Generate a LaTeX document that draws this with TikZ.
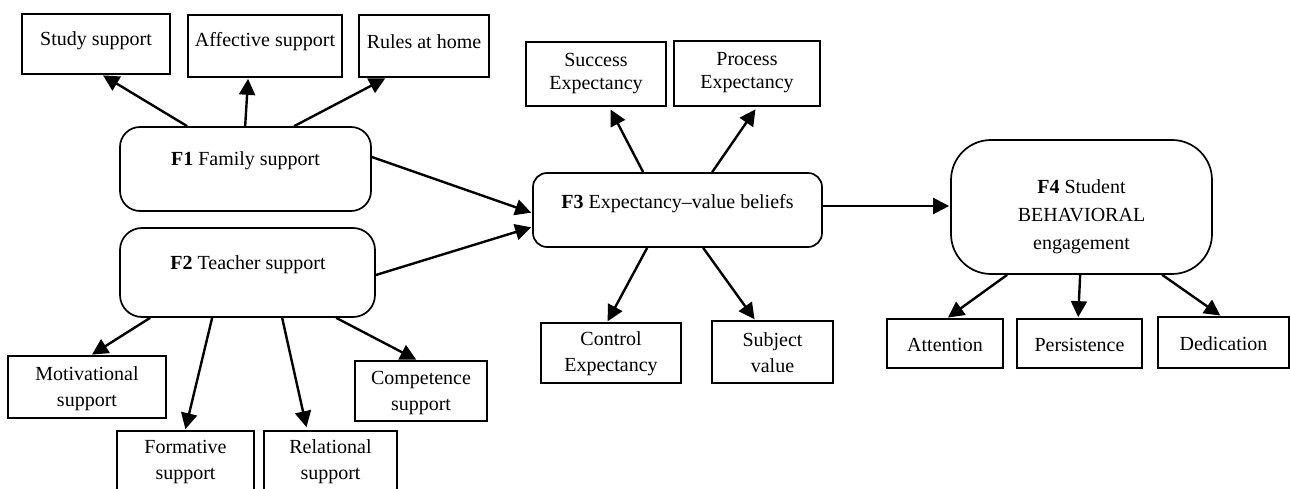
\documentclass[tikz,border=0pt]{standalone}
\usepackage{fontspec}
\setmainfont{Liberation Serif}
\usetikzlibrary{arrows.meta}
\begin{document}
\begin{tikzpicture}[x=1pt,y=-1pt,
  frame/.style={draw, line width=1.7pt, inner sep=0pt},
  rframe/.style={frame, rounded corners=#1},
  lbl/.style={font=\fontsize{20}{26}\selectfont, align=center, inner sep=0pt},
  link/.style={-{Triangle[length=16pt,width=16pt]}, line width=2.4pt, shorten >=1pt}]
\useasboundingbox (0,0) rectangle (1290,489);
\clip (0,0) rectangle (1290,489);

% ---- F1 family support and its indicators
\node[rframe=20pt, minimum width=251, minimum height=84] (f1) at (245.5,169) {};
\node[lbl] (f1t) at (245.5,161) {\textbf{F1} Family support};
\node[frame, minimum width=148, minimum height=60] (study) at (96,44) {};
\node[lbl] (studyt) at (96,41) {Study support};
\node[frame, minimum width=154, minimum height=62] (affect) at (265,46) {};
\node[lbl] (affectt) at (265,42) {Affective support};
\node[frame, minimum width=130, minimum height=62] (rules) at (424,46) {};
\node[lbl] (rulest) at (424,42) {Rules at home};

% ---- F2 teacher support and its indicators
\node[rframe=22pt, minimum width=255, minimum height=89] (f2) at (247.5,272.5) {};
\node[lbl] (f2t) at (248,265) {\textbf{F2} Teacher support};
\node[frame, minimum width=158, minimum height=62] (motiv) at (87,387) {};
\node[lbl] (motivt) at (87,389) {Motivational\\support};
\node[frame, minimum width=137, minimum height=69] (form) at (185.5,465.5) {};
\node[lbl] (formt) at (185.5,462) {Formative\\support};
\node[frame, minimum width=133, minimum height=69] (rel) at (330.5,465.5) {};
\node[lbl] (relt) at (330.5,462) {Relational\\support};
\node[frame, minimum width=132, minimum height=60] (comp) at (421,391) {};
\node[lbl] (compt) at (421,393) {Competence\\support};

% ---- F3 expectancy-value beliefs and its indicators
\node[rframe=14pt, minimum width=289, minimum height=74] (f3) at (677.5,210) {};
\node[lbl] (f3t) at (677.5,204) {\textbf{F3} Expectancy–value beliefs};
\node[frame, minimum width=140, minimum height=64] (succ) at (596,74) {};
\node[lbl, font=\fontsize{20}{23}\selectfont] (succt) at (596,73.5) {Success\\Expectancy};
\node[frame, minimum width=146, minimum height=65] (proc) at (747,73.5) {};
\node[lbl, font=\fontsize{20}{23}\selectfont] (proct) at (747,72.5) {Process\\Expectancy};
\node[frame, minimum width=140, minimum height=60] (ctrl) at (611,353) {};
\node[lbl] (ctrlt) at (611,354) {Control\\Expectancy};
\node[frame, minimum width=121, minimum height=62] (subj) at (772.5,352) {};
\node[lbl] (subjt) at (772.5,352.5) {Subject\\value};

% ---- F4 behavioural engagement and its indicators
\node[rframe=40pt, minimum width=261, minimum height=134] (f4) at (1081.5,207) {};
\node[lbl, font=\fontsize{20}{28}\selectfont] (f4t) at (1081.5,216.5) {\textbf{F4} Student\\BEHAVIORAL\\engagement};
\node[frame, minimum width=116, minimum height=49] (att) at (945,343.5) {};
\node[lbl] (attt) at (945,345) {Attention};
\node[frame, minimum width=125, minimum height=49] (pers) at (1079.5,343.5) {};
\node[lbl] (perst) at (1079.5,345) {Persistence};
\node[frame, minimum width=131, minimum height=51] (ded) at (1223.5,342.5) {};
\node[lbl] (dedt) at (1223.5,344) {Dedication};

% ---- connectors
\draw[link] ([xshift=68pt]f1.north west) -- ([xshift=81pt]study.south west);
\draw[link] ([xshift=126pt]f1.north west) -- ([xshift=61pt]affect.south west);
\draw[link] ([xshift=175pt]f1.north west) -- ([xshift=28pt]rules.south west);

\draw[link] ([yshift=12pt]f1.east) -- ([yshift=-3pt]f3.west);
\draw[link] ([yshift=-2.5pt]f2.east) -- ([yshift=-17pt]f3.west);

\draw[link] ([xshift=31pt]f2.south west) -- ([xshift=84pt]motiv.north west);
\draw[link] ([xshift=93pt]f2.south west) -- ([xshift=69pt]form.north west);
\draw[link, shorten >=3pt] ([xshift=163pt]f2.south west) -- ([xshift=44pt]rel.north west);
\draw[link] ([xshift=217pt]f2.south west) -- ([xshift=63pt]comp.north west);

\draw[link, shorten >=3pt] ([xshift=111pt]f3.north west) -- ([xshift=84pt]succ.south west);
\draw[link, shorten >=3pt] ([xshift=180pt]f3.north west) -- ([xshift=84pt]proc.south west);
\draw[link] ([xshift=115pt]f3.south west) -- ([xshift=67pt]ctrl.north west);
\draw[link] ([xshift=171pt]f3.south west) -- ([xshift=44pt]subj.north west);

\draw[link] ([yshift=4pt]f3.east) -- ([yshift=1pt]f4.west);

\draw[link] ([xshift=57pt]f4.south west) -- ([xshift=61pt]att.north west);
\draw[link] ([xshift=130pt]f4.south west) -- ([xshift=62pt]pers.north west);
\draw[link] ([xshift=212pt]f4.south west) -- ([xshift=64pt]ded.north west);
\end{tikzpicture}
\end{document}
